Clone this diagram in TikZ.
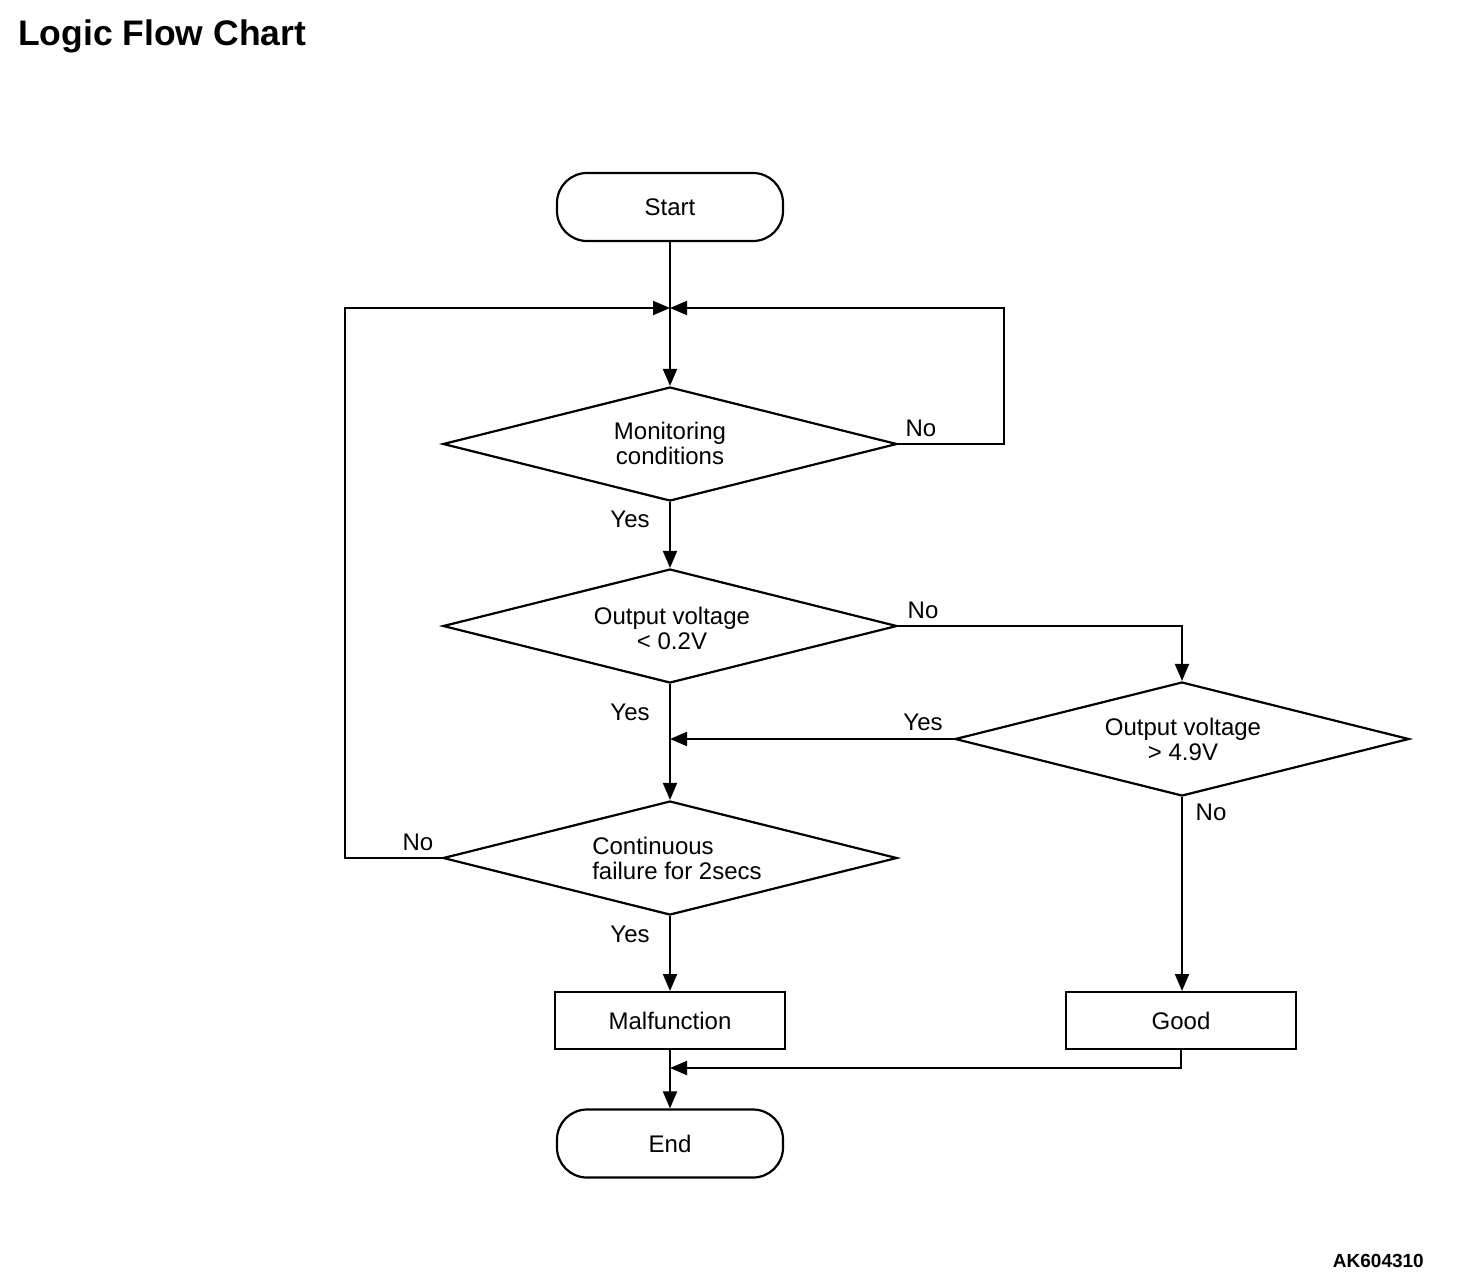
\documentclass[tikz,border=0pt]{standalone}
\usepackage{fontspec}
\setmainfont{Liberation Sans}
\usetikzlibrary{shapes.geometric,arrows.meta}
\begin{document}
\begin{tikzpicture}[x=1pt,y=-1pt,
  every node/.style={font=\fontsize{24}{25}\selectfont, inner sep=0pt},
  term/.style={draw, line width=2.2pt, rounded corners=30pt, minimum width=226pt, minimum height=68pt},
  procbox/.style={draw, line width=2pt, minimum width=230pt, minimum height=57pt},
  decide/.style={draw, diamond, line width=2.2pt, minimum width=454pt, minimum height=114pt, align=center},
  lab/.style={font=\fontsize{24}{25}\selectfont},
  arr/.style={line width=2pt, -{Triangle[length=17pt,width=14pt]}},
  ln/.style={line width=2pt}
]
\useasboundingbox (0,0) rectangle (1472,1280);

\node[anchor=base west, font=\fontsize{35.5}{40}\selectfont\bfseries] (title) at (18,45) {Logic Flow Chart};
\node[anchor=base east, font=\fontsize{19}{22}\selectfont\bfseries] (code) at (1424,1267) {AK604310};

\node[term] (start) at (670,207) {Start};
\node[decide] (d1) at (670,444) {};
\node (t1) at (670,443) [align=center] {Monitoring\\conditions};
\node[decide] (d2) at (670,626) {};
\node (t2) at (672,628) [align=center] {Output voltage\\< 0.2V};
\node[decide] (d3) at (1182,739) {};
\node (t3) at (1183,739) [align=center] {Output voltage\\> 4.9V};
\node[decide] (d4) at (670,858) {};
\node (t4) at (677,858) [align=left] {Continuous\\failure for 2secs};
\node[procbox] (mal) at (670,1020.5) {Malfunction};
\node[procbox] (good) at (1181,1020.5) {Good};
\node[term] (end) at (670,1143.5) {End};

\coordinate (J) at (670,308);
\coordinate (R1) at (1004,444);
\coordinate (L1) at (345,858);
\coordinate (J2) at (670,739);
\coordinate (J3) at (670,1068);

\draw[arr] (start.south) -- (d1.north);
\draw[arr] (d1.east) -- (R1) |- (J);
\draw[arr] (d4.west) -- (L1) |- (J);
\draw[arr] (d1.south) -- (d2.north);
\draw[arr] (d2.south) -- (d4.north);
\draw[arr] (d3.west) -- (J2);
\draw[arr] (d2.east) -| (d3.north);
\draw[arr] (d3.south) -- (d3.south |- good.north);
\draw[arr] (d4.south) -- (mal.north);
\draw[arr] (mal.south) -- (end.north);
\draw[arr] (good.south) |- (J3);

\node[lab] (n1) at (921,428) {No};
\node[lab] (y1) at (630,519) {Yes};
\node[lab] (n2) at (923,610) {No};
\node[lab] (y2) at (630,712) {Yes};
\node[lab] (y3) at (923,722) {Yes};
\node[lab] (n3) at (1211,812) {No};
\node[lab] (n4) at (418,842) {No};
\node[lab] (y4) at (630,934) {Yes};
\end{tikzpicture}
\end{document}
